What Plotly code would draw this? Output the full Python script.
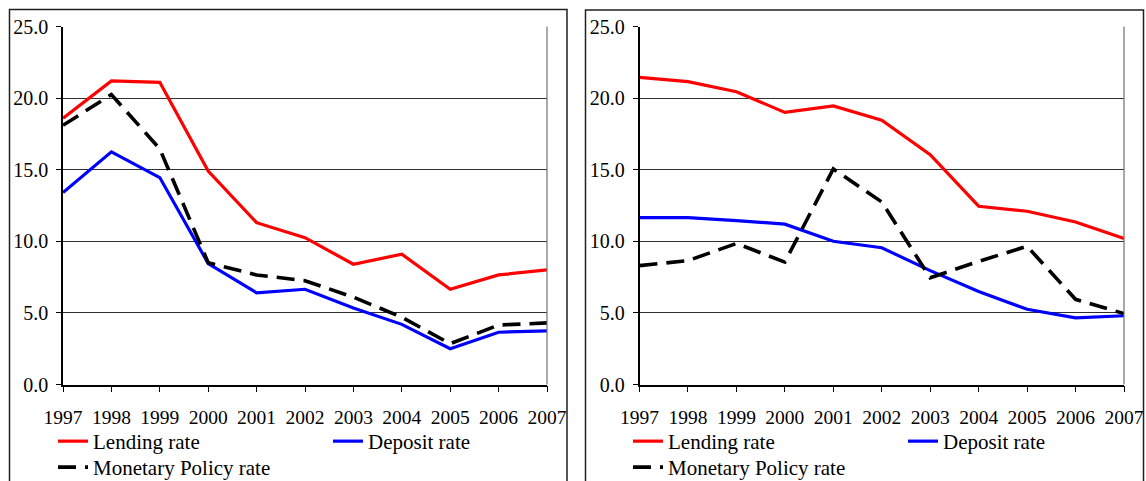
import plotly.graph_objects as go

years = [1997, 1998, 1999, 2000, 2001, 2002, 2003, 2004, 2005, 2006, 2007]
year_labels = [str(y) for y in years]
y_ticks = [0, 5, 10, 15, 20, 25]

# Left panel
left_lending = [18.6, 21.2, 21.1, 14.9, 11.3, 10.25, 8.4, 9.1, 6.65, 7.65, 8.0]
left_deposit = [13.4, 16.25, 14.45, 8.45, 6.4, 6.65, 5.35, 4.2, 2.5, 3.65, 3.75]
left_policy = [18.1, 20.25, 16.45, 8.5, 7.65, 7.25, 6.1, 4.7, 2.85, 4.15, 4.3]

# Right panel
right_lending = [21.45, 21.15, 20.45, 19.0, 19.45, 18.45, 16.05, 12.45, 12.1, 11.35, 10.2]
right_deposit = [11.65, 11.65, 11.45, 11.2, 10.0, 9.55, 7.95, 6.5, 5.25, 4.65, 4.8]
right_policy = [8.3, 8.65, 9.85, 8.55, 15.05, 12.75, 7.45, 8.6, 9.65, 5.95, 4.95]

names = ["Lending rate", "Deposit rate", "Monetary Policy rate"]
colors = ["#FF0000", "#0000FF", "#000000"]

FONT = "Liberation Serif, Times New Roman, serif"
W, H = 1146, 481

fig = go.Figure()

panels = [
    ("x", "y", ["legend", "legend", "legend2"], [left_lending, left_deposit, left_policy]),
    ("x2", "y2", ["legend3", "legend3", "legend4"], [right_lending, right_deposit, right_policy]),
]
for xa, ya, lgs, series in panels:
    for name, col, lg, vals in zip(names, colors, lgs, series):
        dash = "18px,9px" if name.startswith("Monetary") else "solid"
        fig.add_trace(go.Scatter(
            x=years, y=vals, name=name, mode="lines",
            line=dict(color=col, width=3.2 if dash == "solid" else 3.6, dash=dash),
            xaxis=xa, yaxis=ya, legend=lg, hoverinfo="skip",
        ))

ydom = [1 - 384.5 / H, 1 - 26.5 / H]
xdom1 = [63 / W, 547 / W]
xdom2 = [639.5 / W, 1124 / W]

xaxis_common = dict(
    range=[1997, 2007], tickmode="array", tickvals=years, ticktext=year_labels,
    showgrid=False, zeroline=False, showline=True, linecolor="black", linewidth=1.5,
    ticks="outside", ticklen=6, tickcolor="black", tickwidth=1.2,
    tickfont=dict(family=FONT, size=19.5, color="black"), ticklabelstandoff=8,
    fixedrange=True, automargin=False,
)
yaxis_common = dict(
    range=[0, 25], tickmode="array", tickvals=y_ticks,
    ticktext=[f"{v:.1f}" for v in y_ticks],
    showgrid=True, gridcolor="#303030", gridwidth=1, zeroline=False,
    showline=True, linecolor="black", linewidth=1.5,
    ticks="outside", ticklen=5, tickcolor="black", tickwidth=1.2,
    tickfont=dict(family=FONT, size=20, color="black"), ticklabelstandoff=4,
    fixedrange=True, automargin=False,
)

legend_common = dict(
    orientation="h", yanchor="top", xanchor="left",
    xref="container", yref="container",
    font=dict(family=FONT, size=21, color="black"),
    entrywidth=230, entrywidthmode="pixels",
    bgcolor="rgba(0,0,0,0)", tracegroupgap=0,
)

row1_top = 1 - 421 / H
row2_top = 1 - 447 / H

fig.update_layout(
    width=W, height=H,
    margin=dict(l=0, r=0, t=0, b=0, autoexpand=False),
    paper_bgcolor="white", plot_bgcolor="white",
    xaxis=dict(domain=xdom1, anchor="y", **xaxis_common),
    yaxis=dict(domain=ydom, anchor="x", **yaxis_common),
    xaxis2=dict(domain=xdom2, anchor="y2", **xaxis_common),
    yaxis2=dict(domain=ydom, anchor="x2", **yaxis_common),
    legend=dict(x=53 / W, y=row1_top, **legend_common),
    legend2=dict(x=53 / W, y=row2_top, **legend_common),
    legend3=dict(x=628 / W, y=row1_top, **legend_common),
    legend4=dict(x=628 / W, y=row2_top, **legend_common),
    shapes=[
        # outer panel frames
        dict(type="rect", xref="paper", yref="paper",
             x0=9.5 / W, x1=567 / W, y0=-0.05, y1=1 - 9.5 / H,
             line=dict(color="#202020", width=1.5), layer="below"),
        dict(type="rect", xref="paper", yref="paper",
             x0=585.5 / W, x1=1143.5 / W, y0=-0.05, y1=1 - 10 / H,
             line=dict(color="#202020", width=1.5), layer="below"),
        # right borders of plot areas
        dict(type="line", xref="x domain", yref="y domain", x0=1, x1=1, y0=0, y1=1,
             line=dict(color="#707070", width=1.2)),
        dict(type="line", xref="x2 domain", yref="y2 domain", x0=1, x1=1, y0=0, y1=1,
             line=dict(color="#707070", width=1.2)),
    ],
)

fig.write_html(
    "out.html",
    config={"displayModeBar": False},
    post_script="document.body.style.margin='0';document.body.style.overflow='hidden';",
)
